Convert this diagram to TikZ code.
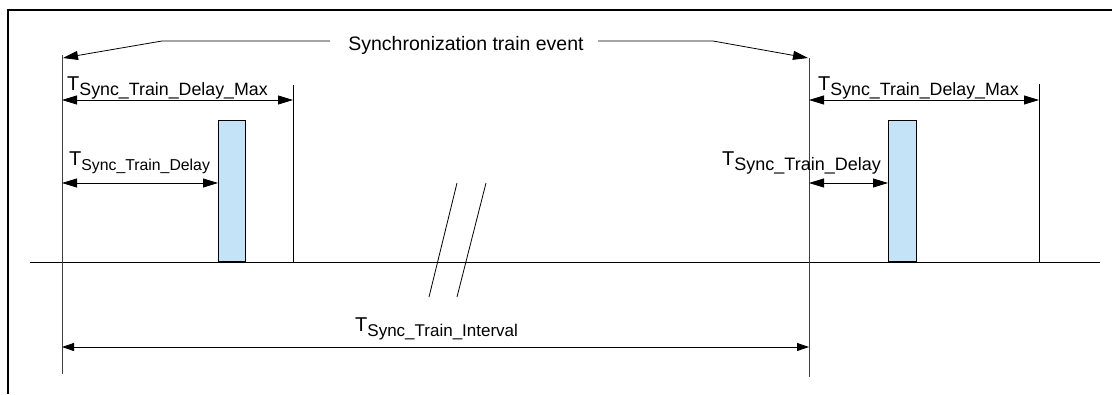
\documentclass[tikz,border=0pt]{standalone}
\usepackage{fontspec}
\setmainfont{Liberation Sans}
\usetikzlibrary{arrows.meta}
\definecolor{barblue}{HTML}{C5E3F7}
\newcommand{\tlab}[2][17]{{\fontsize{20}{22}\selectfont T}\raisebox{-5pt}{\fontsize{#1}{19}\selectfont #2}}
\begin{document}
\begin{tikzpicture}[x=1pt,y=-1pt,
  thin line/.style={line width=0.8pt,black},
  guide/.style={line width=0.7pt,black!75},
  dim/.style={line width=0.8pt,{Triangle[length=15pt,width=9pt]}-{Triangle[length=15pt,width=9pt]}},
  evt/.style={line width=0.8pt,-{Triangle[length=15pt,width=9pt]}},
  bar/.style={draw=black,line width=0.8pt,fill=barblue},
  lab/.style={inner sep=0pt,anchor=base west}]
\useasboundingbox (0,0) rectangle (1112,394);
% frame
\draw[line width=2pt] (8,394) -- (8,9.5) -- (1112,9.5);
% time axis
\coordinate (axL) at (30,262);
\coordinate (axR) at (1100,262);
\draw[thin line] (axL) -- (axR);
% event verticals
\coordinate (e1t) at (62,55);  \coordinate (e1b) at (62,374);
\coordinate (e2t) at (809,58); \coordinate (e2b) at (809,377);
\draw[guide] (e1t) -- (e1b);
\draw[guide] (e2t) -- (e2b);
% max verticals
\coordinate (m1t) at (293,85);  \coordinate (m1b) at (293,262);
\coordinate (m2t) at (1039,84); \coordinate (m2b) at (1039,262);
\draw[thin line] (m1t) -- (m1b);
\draw[thin line] (m2t) -- (m2b);
% bars
\node[bar,minimum width=27pt,minimum height=141pt,inner sep=0pt,anchor=south west] (b1) at (218,262) {};
\node[bar,minimum width=28pt,minimum height=141pt,inner sep=0pt,anchor=south west] (b2) at (888,262) {};
% event label and arrows
\node[inner sep=0pt,anchor=base] (ev) at (466,50) {\fontsize{19.5}{21}\selectfont Synchronization train event};
\coordinate (evL1) at (330,41); \coordinate (evL2) at (162,41); \coordinate (evLt) at (63,58);
\coordinate (evR1) at (598,41); \coordinate (evR2) at (713,41); \coordinate (evRt) at (808,58);
\draw[evt] (evL1) -- (evL2) -- (evLt);
\draw[evt] (evR1) -- (evR2) -- (evRt);
% dimension arrows
\coordinate (d1a) at (62,100);  \coordinate (d1b) at (293,100);
\coordinate (d2a) at (809,100); \coordinate (d2b) at (1039,100);
\coordinate (d3a) at (62,183);  \coordinate (d3b) at (218,183);
\coordinate (d4a) at (809,183); \coordinate (d4b) at (888,183);
\coordinate (d5a) at (62,347);  \coordinate (d5b) at (809,347);
\draw[dim] (d1a) -- (d1b);
\draw[dim] (d2a) -- (d2b);
\draw[dim] (d3a) -- (d3b);
\draw[dim] (d4a) -- (d4b);
\draw[line width=0.8pt,{Triangle[length=12pt,width=8pt]}-{Triangle[length=12pt,width=8pt]}] (d5a) -- (d5b);
% labels
\node[lab] (lmax1) at (67,90) {\tlab[17.8]{Sync\_Train\_Delay\_Max}};
\node[lab] (lmax2) at (818,90) {\tlab[17.8]{Sync\_Train\_Delay\_Max}};
\node[lab] (ld1) at (69,165) {\tlab[15.8]{Sync\_Train\_Delay}};
\node[lab] (ld2) at (722,165) {\tlab[18]{Sync\_Train\_Delay}};
\node[lab] (lint) at (355,331) {\tlab[17]{Sync\_Train\_Interval}};
% break marks
\coordinate (k1a) at (457,183); \coordinate (k1b) at (429,297);
\coordinate (k2a) at (486,183); \coordinate (k2b) at (457,297);
\draw[thin line] (k1a) -- (k1b);
\draw[thin line] (k2a) -- (k2b);
\end{tikzpicture}
\end{document}
